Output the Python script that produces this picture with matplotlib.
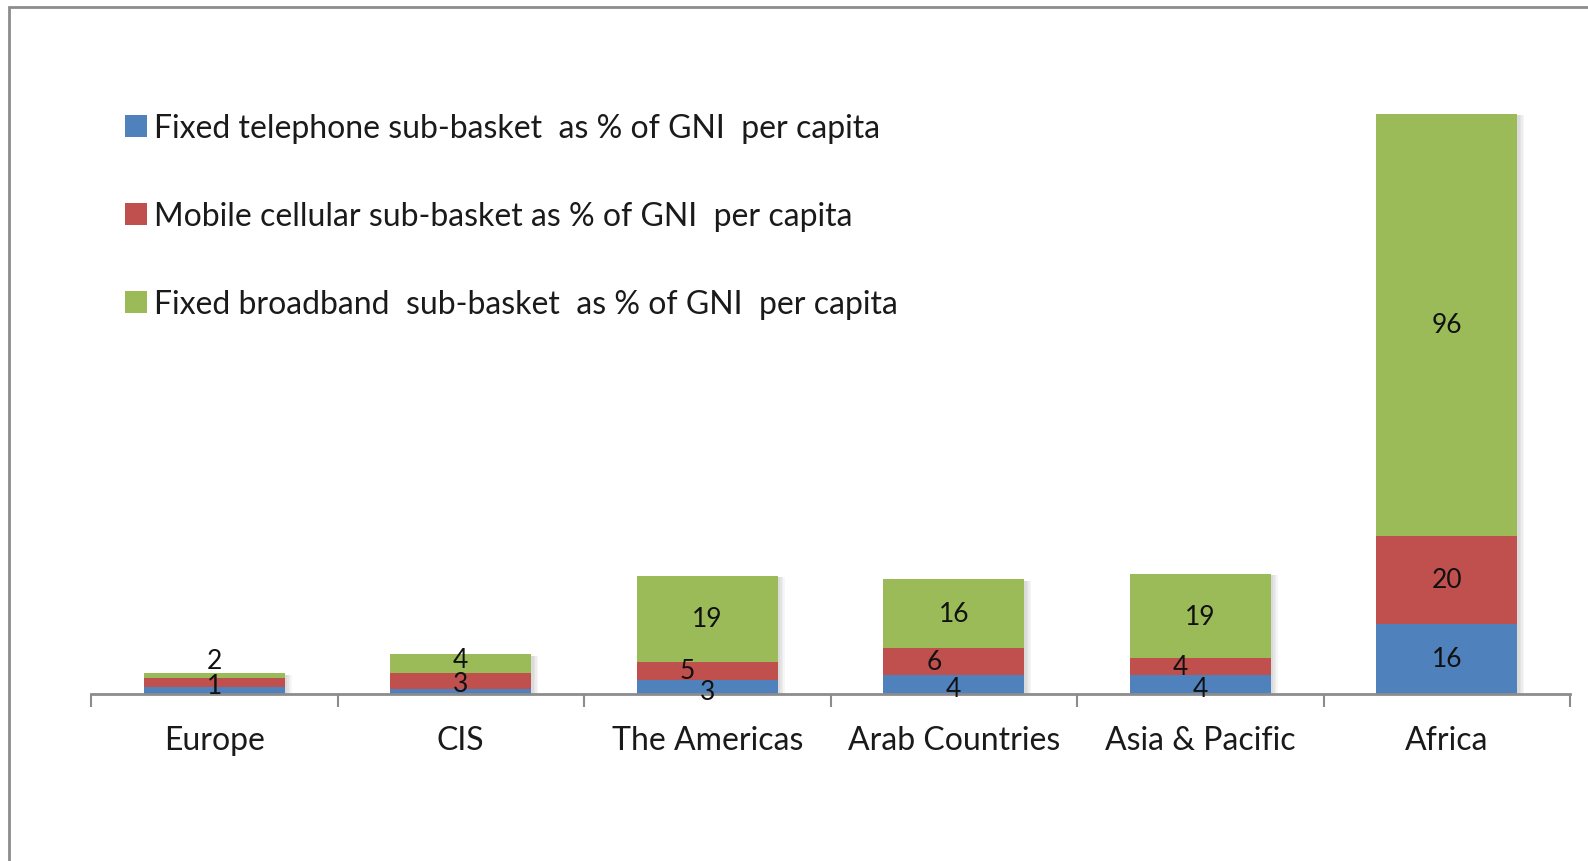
import numpy as np
import matplotlib
matplotlib.use("Agg")
from matplotlib import pyplot as plt
from matplotlib.patches import Rectangle

# regions and sub-basket values (% of GNI per capita)
regions = ["Europe", "CIS", "The Americas", "Arab Countries", "Asia & Pacific", "Africa"]
fixed_tel = [1.6, 1.1, 3.2, 4.3, 4.3, 16]
mobile = [2.0, 3.6, 4.1, 6.1, 3.9, 20]
broadband = [1.1, 4.3, 19.6, 15.7, 19.1, 96]

# labels as shown on the chart ("" = hidden)
fixed_tel_lbl = ["", "", "3", "4", "4", "16"]
mobile_lbl = ["1", "3", "5", "6", "4", "20"]
broadband_lbl = ["2", "4", "19", "16", "19", "96"]

series_names = ["Fixed telephone sub-basket  as % of GNI  per capita",
                "Mobile cellular sub-basket as % of GNI  per capita",
                "Fixed broadband  sub-basket  as % of GNI  per capita"]
colors = ["#4F81BD", "#C0504D", "#9BBB59"]

plt.rcParams['font.family'] = ['Lato', 'DejaVu Sans']

fig = plt.figure(figsize=(15.88, 8.62), dpi=100)
ax = fig.add_axes([91/1588, 1 - 695/862, (1570-91)/1588, 580/862])

# outer chart border
fig.patches.append(Rectangle((9/1588, -0.1), 1.2, 1 - 8/862 + 0.1, transform=fig.transFigure,
                             fill=False, edgecolor="#8C8C8C", lw=2))

x = np.arange(len(regions))
w = 0.57
vals = [np.array(fixed_tel), np.array(mobile), np.array(broadband)]
lbls = [fixed_tel_lbl, mobile_lbl, broadband_lbl]

# soft shadow
tot = vals[0] + vals[1] + vals[2]
for k in range(4):
    ax.bar(x + 0.012 + k*0.006, tot - 0.3, w, bottom=0, color="#000000", alpha=0.035, zorder=1)

bottom = np.zeros(len(regions))
for v, c, name in zip(vals, colors, series_names):
    ax.bar(x, v, w, bottom=bottom, color=c, label=name, zorder=2)
    bottom = bottom + v

# data labels
bottom = np.zeros(len(regions))
for si, (v, lab) in enumerate(zip(vals, lbls)):
    for i in range(len(regions)):
        if lab[i]:
            y = bottom[i] + v[i] / 2
            dx = 0
            if si == 2 and v[i] < 3:
                y = bottom[i] + v[i] + 3.0
            elif si == 2 and v[i] < 5:
                y = y + 0.9
            if si == 1 and tot[i] < 10:
                y = y - 0.6
            if v[i] < 4.5 and tot[i] < 40 and si == 0:
                y = bottom[i] + v[i] / 2 - 1.0
            if si == 1 and tot[i] > 20 and tot[i] < 40 and v[i] < 7:
                dx = -0.08
            ax.text(x[i] + dx, y, lab[i], ha="center", va="center", fontsize=19, color="#111111", zorder=3)
    bottom = bottom + v

ax.set_xlim(-0.5, len(regions) - 0.5)
ax.set_ylim(0, 132)
for s in ["top", "right", "left"]:
    ax.spines[s].set_visible(False)
ax.spines["bottom"].set_color("#8C8C8C")
ax.spines["bottom"].set_linewidth(2)
ax.set_yticks([])
ax.set_xticks(x)
ax.set_xticklabels(regions, fontsize=23, color="#1a1a1a")
ax.tick_params(axis="x", which="major", length=0, pad=22)
ax.set_xticks(np.arange(len(regions) + 1) - 0.5, minor=True)
ax.tick_params(axis="x", which="minor", length=9, width=1.5, color="#8C8C8C")

fig.legend(loc="upper left", bbox_to_anchor=(125/1588, 1 - 114/862), frameon=False,
           fontsize=23, handlelength=0.7, handleheight=0.7, handletextpad=0.2,
           labelspacing=1.82, labelcolor="#1a1a1a", borderpad=0, borderaxespad=0)

fig.savefig("out.png", dpi=100)
